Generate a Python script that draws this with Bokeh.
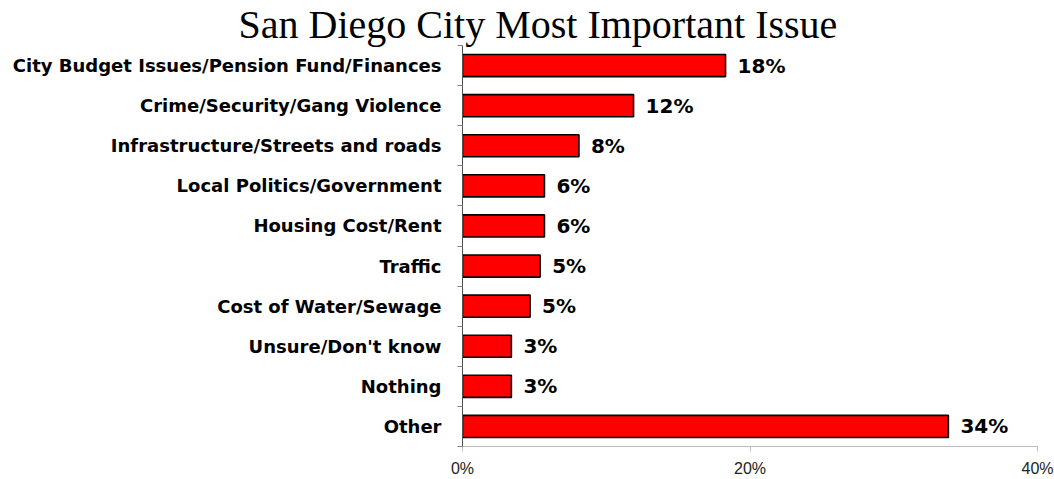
from bokeh.plotting import figure
from bokeh.models import ColumnDataSource, Range1d, FixedTicker
from bokeh.core.properties import value
from bokeh.embed import file_html
from bokeh.resources import INLINE

title_text = "San Diego City Most Important Issue"
categories = [
    "City Budget Issues/Pension Fund/Finances",
    "Crime/Security/Gang Violence",
    "Infrastructure/Streets and roads",
    "Local Politics/Government",
    "Housing Cost/Rent",
    "Traffic",
    "Cost of Water/Sewage",
    "Unsure/Don't know",
    "Nothing",
    "Other",
]
values = [18.3, 11.9, 8.1, 5.7, 5.7, 5.4, 4.7, 3.4, 3.4, 33.8]
value_labels = ["18%", "12%", "8%", "6%", "6%", "5%", "5%", "3%", "3%", "34%"]
x_ticks = [0, 20, 40]
x_tick_labels = ["0%", "20%", "40%"]

n = len(categories)
pos = list(range(n))
source = ColumnDataSource(dict(pos=pos, val=values, lab=value_labels, cat=categories))

p = figure(
    width=1054, height=479,
    x_range=Range1d(0, 40), y_range=Range1d(n - 0.5, -0.5),
    output_backend="svg", toolbar_location=None,
    min_border_left=462, min_border_right=17, min_border_top=45, min_border_bottom=31,
    outline_line_color=None,
)
p.background_fill_color = "white"
p.border_fill_color = "white"
p.xgrid.visible = False
p.ygrid.visible = False

p.title.text = title_text
p.title.text_font = "Liberation Serif"
p.title.text_font_size = "40px"
p.title.text_font_style = "normal"
p.title.align = "left"
p.title.vertical_align = "bottom"
p.title.offset = -224
p.title.standoff = -2
p.title.text_color = "black"

p.hbar(y="pos", left=0, right="val", height=0.55, source=source,
       fill_color="#FF0000", line_color="black", line_width=1.6)

p.text(x="val", y="pos", text="lab", source=source, x_offset=12,
       text_baseline="middle", text_align="left",
       text_font=value("DejaVu Sans"), text_font_style="bold",
       text_font_size="20px", text_color="black")

# y axis
ya = p.yaxis[0]
ya.ticker = FixedTicker(ticks=pos, minor_ticks=[i + 0.5 for i in range(-1, n)])
ya.major_label_overrides = {i: c for i, c in zip(pos, categories)}
ya.major_tick_line_color = None
ya.major_tick_out = 0
ya.major_tick_in = 0
ya.minor_tick_line_color = "#808080"
ya.minor_tick_out = 5
ya.minor_tick_in = 0
ya.axis_line_color = "#505050"
ya.axis_line_width = 1
ya.major_label_standoff = 16
ya.major_label_text_font = "DejaVu Sans"
ya.major_label_text_font_style = "bold"
ya.major_label_text_font_size = "18px"
ya.major_label_text_color = "black"

# x axis
xa = p.xaxis[0]
xa.ticker = FixedTicker(ticks=x_ticks, minor_ticks=[])
xa.major_label_overrides = {t: l for t, l in zip(x_ticks, x_tick_labels)}
xa.axis_line_color = "#BDBDBD"
xa.major_tick_line_color = "#BDBDBD"
xa.major_tick_out = 5
xa.major_tick_in = 0
xa.minor_tick_line_color = None
xa.major_label_standoff = 8
xa.major_label_text_font = "Liberation Sans"
xa.major_label_text_font_size = "16px"
xa.major_label_text_color = "#222222"

open("out.html", "w").write(file_html(p, INLINE))
